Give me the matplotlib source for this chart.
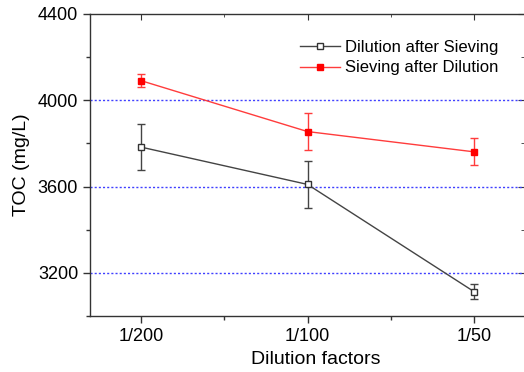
import numpy as np
import matplotlib.pyplot as plt
from matplotlib.ticker import MultipleLocator

plt.rcParams['font.family'] = ['Liberation Sans', 'DejaVu Sans']

# Data
factors = ['1/200', '1/100', '1/50']
dil_after_siev = [3783, 3610, 3113]
dil_after_siev_err = [107, 107, 35]
siev_after_dil = [4091, 3855, 3761]
siev_after_dil_err = [31, 87, 63]
grid_levels = [3200, 3600, 4000]
y_major = [3200, 3600, 4000, 4400]

x = np.arange(len(factors))
axis_col = '#333333'

fig = plt.figure(figsize=(5.24, 3.72), dpi=100)
ax = fig.add_axes([0.1718, 0.1505, 0.8282, 0.8119])

for g in grid_levels:
    ax.axhline(g, color='#4040ff', linestyle=(0, (1.5, 1.5)), linewidth=1.0, zorder=1)

eb1 = ax.errorbar(x, dil_after_siev, yerr=dil_after_siev_err, color='#444444', lw=1.0,
                  marker='s', markersize=5, markerfacecolor='white', markeredgecolor='#333333',
                  markeredgewidth=1.0, capsize=3, elinewidth=1.0, capthick=1.0, zorder=3)
eb2 = ax.errorbar(x, siev_after_dil, yerr=siev_after_dil_err, color='#ff3c3c', lw=1.0,
                  marker='s', markersize=5, markerfacecolor='#ff0000', markeredgecolor='#ff0000',
                  capsize=3, elinewidth=1.0, capthick=1.0, zorder=3)

ax.set_xlim(-0.306, 2.3)
ax.set_ylim(3000, 4400)
ax.set_xticks(x)
ax.set_xticklabels(factors)
ax.xaxis.set_minor_locator(MultipleLocator(0.5))
ax.set_yticks(y_major)
ax.yaxis.set_minor_locator(MultipleLocator(200))

for side in ['left', 'bottom', 'top']:
    ax.spines[side].set_color(axis_col)
    ax.spines[side].set_linewidth(1.0)
ax.spines['right'].set_visible(False)

ax.tick_params(which='both', colors=axis_col, labelcolor='black', labelsize=13, width=1.0,
               direction='out', top=False, right=False)
ax.tick_params(which='major', length=5)
ax.tick_params(which='minor', length=3)

# inward ticks on top and right, like the original
sec_top = ax.secondary_xaxis('top')
sec_top.set_xticks(x)
sec_top.xaxis.set_minor_locator(MultipleLocator(0.5))
sec_top.tick_params(which='major', direction='in', length=4, colors=axis_col, labeltop=False)
sec_top.tick_params(which='minor', direction='in', length=2, colors=axis_col)
sec_top.spines['top'].set_visible(False)
sec_right = ax.secondary_yaxis('right')
sec_right.set_yticks(y_major)
sec_right.yaxis.set_minor_locator(MultipleLocator(200))
sec_right.tick_params(which='major', direction='in', length=4, colors=axis_col, labelright=False)
sec_right.tick_params(which='minor', direction='in', length=2, colors=axis_col)
sec_right.spines['right'].set_visible(False)

ax.set_xlabel('Dilution factors', fontsize=14, labelpad=4)
ax.xaxis.set_label_coords(0.52, -0.115)
ax.set_ylabel('TOC (mg/L)', fontsize=14, labelpad=6)

ax.legend([eb1[0], eb2[0]], ['Dilution after Sieving', 'Sieving after Dilution'],
          loc='upper left', bbox_to_anchor=(0.484, 0.915), frameon=False, fontsize=12,
          borderpad=0, borderaxespad=0, handlelength=2.4, handletextpad=0.3,
          labelspacing=0.35, markerscale=0.75)

fig.savefig('out.png', dpi=100)
